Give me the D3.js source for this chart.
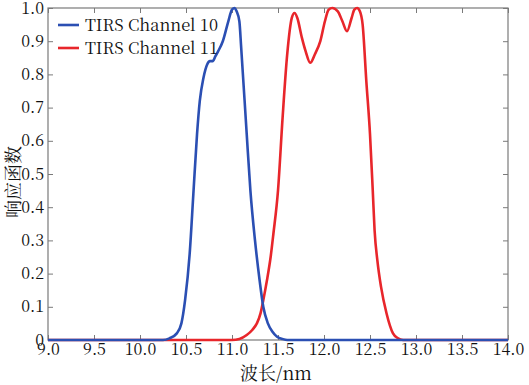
<!DOCTYPE html>
<html><head><meta charset="utf-8">
<script src="https://cdn.jsdelivr.net/npm/d3@7"></script>
<style>body{margin:0;background:#fff}svg{display:block}</style>
</head><body><svg id="c" width="529" height="385"></svg>
<script>
const seriesNames = ["TIRS Channel 10", "TIRS Channel 11"];
const seriesColors = ["#2b4fb3", "#e8262b"];
const ch10Wave = [9.0, 10.0, 10.25, 10.32, 10.4, 10.45, 10.49, 10.54, 10.58, 10.62, 10.65, 10.69, 10.73, 10.76, 10.79, 10.82, 10.85, 10.9, 10.96, 11.0, 11.03, 11.05, 11.08, 11.1, 11.16, 11.2, 11.25, 11.3, 11.34, 11.39, 11.44, 11.49, 11.55, 11.6, 14.0];
const ch10Resp = [0, 0, 0, 0.005, 0.02, 0.05, 0.12, 0.26, 0.44, 0.62, 0.72, 0.79, 0.83, 0.84, 0.84, 0.855, 0.87, 0.90, 0.96, 0.995, 1.0, 0.99, 0.96, 0.88, 0.62, 0.45, 0.30, 0.18, 0.10, 0.05, 0.025, 0.01, 0.003, 0, 0];
const ch11Wave = [9.0, 11.0, 11.08, 11.16, 11.22, 11.27, 11.31, 11.34, 11.38, 11.42, 11.45, 11.5, 11.55, 11.6, 11.65, 11.68, 11.71, 11.76, 11.8, 11.85, 11.9, 11.96, 12.01, 12.05, 12.09, 12.15, 12.2, 12.25, 12.3, 12.33, 12.36, 12.39, 12.42, 12.46, 12.5, 12.53, 12.55, 12.58, 12.62, 12.68, 12.75, 12.8, 12.86, 14.0];
const ch11Resp = [0, 0, 0.003, 0.015, 0.03, 0.05, 0.08, 0.12, 0.18, 0.25, 0.32, 0.45, 0.67, 0.86, 0.97, 0.985, 0.97, 0.91, 0.87, 0.835, 0.86, 0.90, 0.96, 0.995, 1.0, 0.99, 0.96, 0.93, 0.97, 0.995, 1.0, 0.99, 0.95, 0.78, 0.62, 0.45, 0.33, 0.24, 0.16, 0.08, 0.02, 0.006, 0, 0];
const xTicks = [9.0, 9.5, 10.0, 10.5, 11.0, 11.5, 12.0, 12.5, 13.0, 13.5, 14.0];
const yTicks = [0, 0.1, 0.2, 0.3, 0.4, 0.5, 0.6, 0.7, 0.8, 0.9, 1.0];
const xTitle = "波长/nm";
const yTitle = "响应函数";

const svg = d3.select("#c");
const L = 48, R = 508, T = 8, B = 340;
const x = d3.scaleLinear().domain([9, 14]).range([L, R]);
const y = d3.scaleLinear().domain([0, 1]).range([B, T]);
const axisCol = "#7a7a7a";
const FONT = "Noto Serif CJK SC";

function setFont(sel, size){
  sel.attr("font-family", FONT).attr("font-size", size);
}
function styleAxis(g){
  setFont(g, 16);
  g.selectAll(".domain").remove();
  g.selectAll(".tick line").attr("stroke", axisCol).attr("stroke-width", 1);
  g.selectAll(".tick text").call(setFont, 16).attr("fill", "#111");
}
svg.append("g").attr("transform", `translate(0,${B})`)
  .call(d3.axisBottom(x).tickValues(xTicks).tickSize(-5).tickPadding(4).tickFormat(d3.format(".1f")))
  .call(styleAxis);
svg.append("g").attr("transform", `translate(0,${T})`)
  .call(d3.axisTop(x).tickValues(xTicks).tickSize(-5).tickFormat(""))
  .call(styleAxis);
svg.append("g").attr("transform", `translate(${L},0)`)
  .call(d3.axisLeft(y).tickValues(yTicks).tickSize(-5).tickPadding(4).tickFormat(d => d === 0 ? "0" : d3.format(".1f")(d)))
  .call(styleAxis);
svg.append("g").attr("transform", `translate(${R},0)`)
  .call(d3.axisRight(y).tickValues(yTicks).tickSize(-5).tickFormat(""))
  .call(styleAxis);

svg.append("rect").attr("x", L).attr("y", T).attr("width", R - L).attr("height", B - T)
  .attr("fill", "none").attr("stroke", axisCol).attr("stroke-width", 1.2);

const line = d3.line().x(d => x(d[0])).y(d => y(d[1])).curve(d3.curveMonotoneX);
const series = [d3.zip(ch10Wave, ch10Resp), d3.zip(ch11Wave, ch11Resp)];
[1, 0].forEach(i => {
  svg.append("path").datum(series[i]).attr("d", line)
    .attr("fill", "none").attr("stroke", seriesColors[i]).attr("stroke-width", 2.6)
    .attr("stroke-linejoin", "round");
});

seriesNames.forEach((n, i) => {
  const yy = 25 + i * 23;
  svg.append("line").attr("x1", 58).attr("x2", 79).attr("y1", yy).attr("y2", yy)
    .attr("stroke", seriesColors[i]).attr("stroke-width", 2.6);
  svg.append("text").attr("x", 85).attr("y", yy + 6).text(n)
    .call(setFont, 16.5).attr("fill", "#111");
});

svg.append("text").attr("x", 276).attr("y", 380).attr("text-anchor", "middle")
  .call(setFont, 18).attr("fill", "#111").text(xTitle);
svg.append("text").attr("transform", "translate(20,182) rotate(-90)").attr("text-anchor", "middle")
  .call(setFont, 18).attr("fill", "#111").text(yTitle);
</script></body></html>
